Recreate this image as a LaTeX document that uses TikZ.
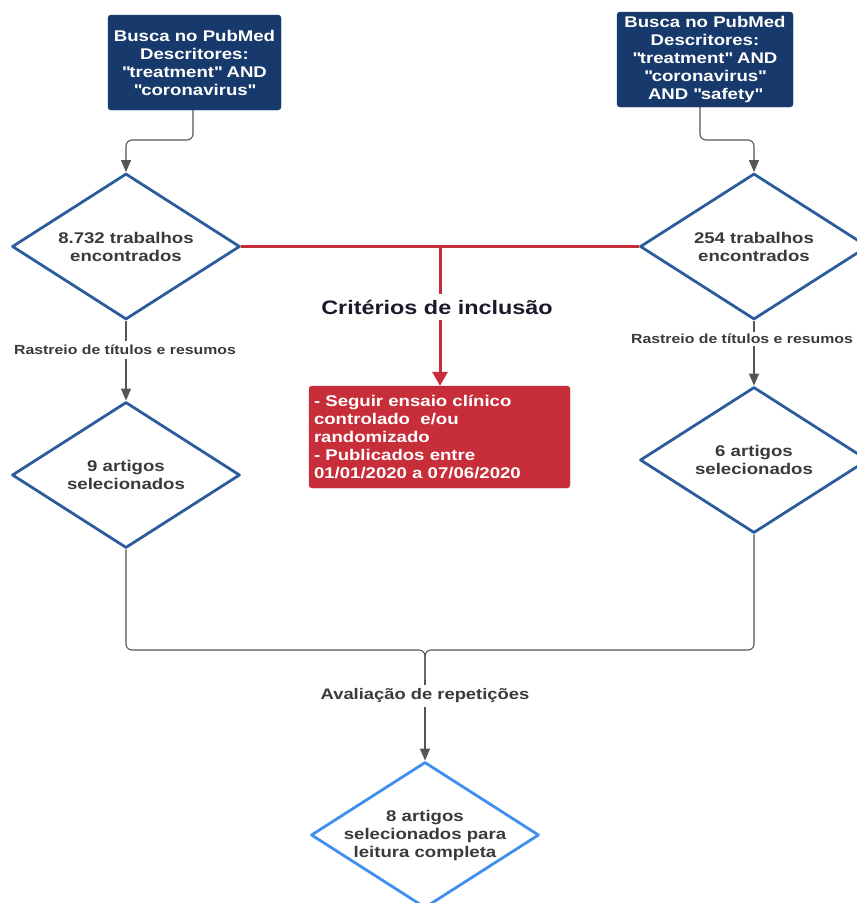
\documentclass[tikz,border=0pt]{standalone}
\usepackage{fontspec}
\setmainfont{Liberation Sans}[FakeStretch=1.2]
\usetikzlibrary{shapes.geometric,arrows.meta}
\definecolor{navy}{HTML}{17396B}
\definecolor{dblue}{HTML}{2D5C9C}
\definecolor{lblue}{HTML}{3F8FF0}
\definecolor{cred}{HTML}{C82D3A}
\definecolor{txt}{HTML}{3A3A3A}
\definecolor{cgray}{HTML}{555555}
\definecolor{ctitle}{HTML}{1A1A2A}
\newcommand{\qq}{\textquotedbl}
\begin{document}
\begin{tikzpicture}[x=1pt,y=-1pt,
  mainfont/.style={font=\bfseries\fontsize{15.5}{18}\selectfont},
  dbox/.style={mainfont, fill=navy, draw=navy, rounded corners=3pt, text=white, align=center, inner sep=0pt, minimum height=95pt},
  dia/.style={diamond, aspect=1.56, mainfont, draw=dblue, line width=2.8pt, line join=round, fill=white, minimum width=228pt, minimum height=146pt, inner sep=0pt, align=center, text=txt},
  conn/.style={draw=cgray, line width=1.1pt, rounded corners=6pt, -{Triangle[length=12pt,width=10pt]}},
  plainconn/.style={draw=cgray, line width=1.1pt, rounded corners=6pt},
  lbl/.style={fill=white, text=txt, inner sep=4pt},
]
\useasboundingbox (0,0) rectangle (857,903);
\clip (0,0) rectangle (857,903);

% top boxes
\node[dbox, minimum width=173pt] (b1) at (194.5,62.5) {Busca no PubMed\\Descritores:\\\qq treatment\qq{} AND\\\qq coronavirus\qq};
\node[dbox, minimum width=176pt] (b2) at (705,59.5) {Busca no PubMed\\Descritores:\\\qq treatment\qq{} AND\\\qq coronavirus\qq\\AND \qq safety\qq};

% diamonds
\node[dia] (d1) at (126,246.5) {8.732 trabalhos\\encontrados};
\node[dia] (d2) at (754,246.5) {254 trabalhos\\encontrados};
\node[dia] (d3) at (126,475) {9 artigos\\selecionados};
\node[dia] (d4) at (754,460) {6 artigos\\selecionados};
\node[dia, draw=lblue, inner sep=-9pt] (d5) at (425,835) {8 artigos\\selecionados para\\leitura completa};

% red box
\node[mainfont, fill=cred, draw=cred, rounded corners=3pt, text=white, align=left,
      text width=251pt, minimum height=102pt, inner sep=5pt] (rb) at (439.5,437)
  {- Seguir ensaio clínico\\controlado\ \ e/ou\\randomizado\\- Publicados entre\\01/01/2020 a 07/06/2020};

% connectors from top boxes
\coordinate (c1) at (193,140);
\coordinate (c2) at (700,140);
\draw[conn] (b1.south -| c1) -- (c1) -| (d1.north);
\draw[conn] (b2.south -| c2) -- (c2) -| (d2.north);

% red inclusion criteria
\draw[cred, line width=3pt] (d1.east) -- (d2.west);
\coordinate (rj) at (440,246.5);
\draw[cred, line width=3pt, -{Triangle[length=14pt,width=15pt]}] (rj) -- (rj |- rb.north);
\node[fill=white, text=ctitle, inner sep=6pt, font=\bfseries\fontsize{19.5}{22}\selectfont] (crit) at (437,307) {Critérios de inclusão};

% screening
\draw[conn] (d1.south) -- (d3.north);
\node[lbl, font=\bfseries\fontsize{13.2}{15}\selectfont] (l1) at (125,350) {Rastreio de títulos e resumos};
\draw[conn] (d2.south) -- (d4.north);
\node[lbl, inner sep=2pt, font=\bfseries\fontsize{13.2}{15}\selectfont] (l2) at (742,339) {Rastreio de títulos e resumos};

% merge
\coordinate (m) at (425,650);
\coordinate (mdown) at (425,680);
\draw[plainconn] (d3.south) |- (m) -- (mdown);
\draw[plainconn] (d4.south) |- (m) -- (mdown);
\draw[conn] (mdown) -- (d5.north);
\node[lbl, font=\bfseries\fontsize{15.3}{18}\selectfont] (l3) at (425,696) {Avaliação de repetições};
\end{tikzpicture}
\end{document}
